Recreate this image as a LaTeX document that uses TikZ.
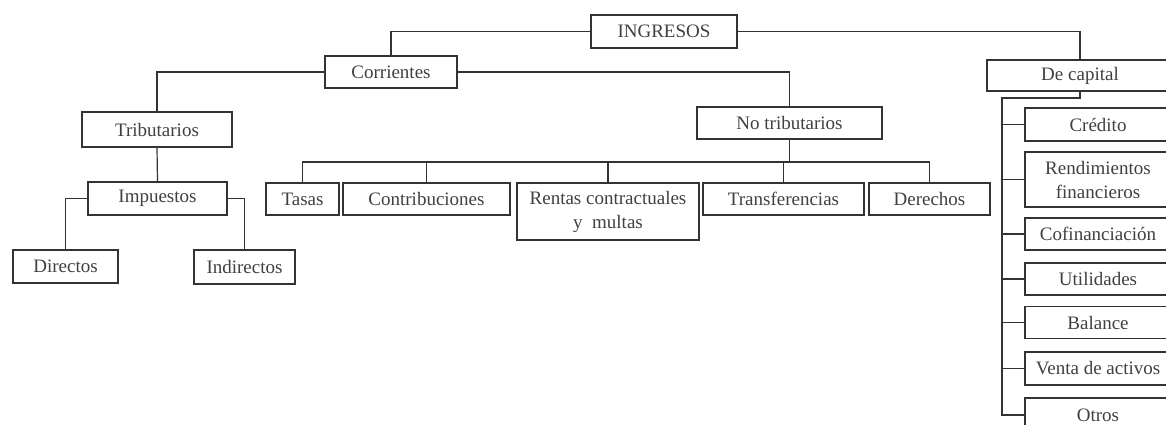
\documentclass[tikz,border=0pt]{standalone}
\usepackage{fontspec}
\setmainfont{Liberation Serif}
\begin{document}
\begin{tikzpicture}[x=1pt,y=-1pt,
  ink/.style={draw=black!80,line width=1.2pt},
  box/.style={ink,rectangle,inner sep=0pt,align=center,text=black!75,
    font=\fontsize{19}{24}\selectfont},
  conn/.style={ink}]
\useasboundingbox (0,0) rectangle (1166,424);
\begin{scope}
\clip (0,0) rectangle (1166,424);
% top levels
\node[box,minimum width=146,minimum height=33] (ing) at (664,31.5) {INGRESOS};
\node[box,minimum width=132,minimum height=32] (cor) at (391,72) {Corrientes};
\node[box,minimum width=186,minimum height=31] (cap) at (1080,75.5) {De capital};
\node[box,minimum width=150,minimum height=35] (trib) at (157,129.5) {Tributarios};
\node[box,minimum width=185,minimum height=32] (notrib) at (789.5,123) {No tributarios};
\node[box,minimum width=139,minimum height=33] (imp) at (157.5,198.5) {Impuestos};
\node[box,minimum width=105,minimum height=33] (dir) at (65.5,266.5) {Directos};
\node[box,minimum width=101,minimum height=34] (ind) at (244.5,267) {Indirectos};
% no tributarios children
\node[box,minimum width=73,minimum height=32] (tas) at (302.5,199) {Tasas};
\node[box,minimum width=167,minimum height=32] (con) at (426.5,199) {Contribuciones};
\node[box,minimum width=182,minimum height=57] (ren) at (608,211.5) {Rentas contractuales\\y\ \ multas};
\node[box,minimum width=161,minimum height=32] (tra) at (783.5,199) {Transferencias};
\node[box,minimum width=121,minimum height=32] (der) at (929.5,199) {Derechos};
% de capital children
\node[box,minimum width=146,minimum height=33] (cre) at (1098,124.5) {Crédito};
\node[box,minimum width=146,minimum height=55] (rend) at (1098,179.5) {Rendimientos\\financieros};
\node[box,minimum width=146,minimum height=32] (cof) at (1098,234) {Cofinanciación};
\node[box,minimum width=146,minimum height=32] (uti) at (1098,279) {Utilidades};
\node[box,minimum width=146,minimum height=32] (bal) at (1098,322.5) {Balance};
\node[box,minimum width=146,minimum height=33] (ven) at (1098,368.5) {Venta de activos};
\node[box,minimum width=146,minimum height=34] (otr) at (1098,415) {Otros};
% connectors
\draw[conn] (ing.west) -| (cor.north);
\draw[conn] (ing.east) -| (cap.north);
\draw[conn] (cor.west) -| (trib.north);
\draw[conn] (cor.east) -| (notrib.north);
\draw[conn] (trib.south) -- (imp.north);
\draw[conn] (imp.west) -| (dir.north);
\draw[conn] (imp.east) -| (ind.north);
\coordinate (nb) at (789.5,162);
\draw[conn] (notrib.south) -- (nb);
\draw[conn] (tas.north) -- (tas.north |- nb) -- (der.north |- nb) -- (der.north);
\foreach \n in {con,ren,tra} \draw[conn] (\n.north) -- (\n.north |- nb);
\coordinate (cb) at (1002,98);
\draw[conn] (cap.south) |- (cb) -- (cb |- otr.west) -- (otr.west);
\foreach \n in {cre,rend,cof,uti,bal,ven} \draw[conn] (\n.west) -- (\n.west -| cb);
\end{scope}
\end{tikzpicture}
\end{document}
